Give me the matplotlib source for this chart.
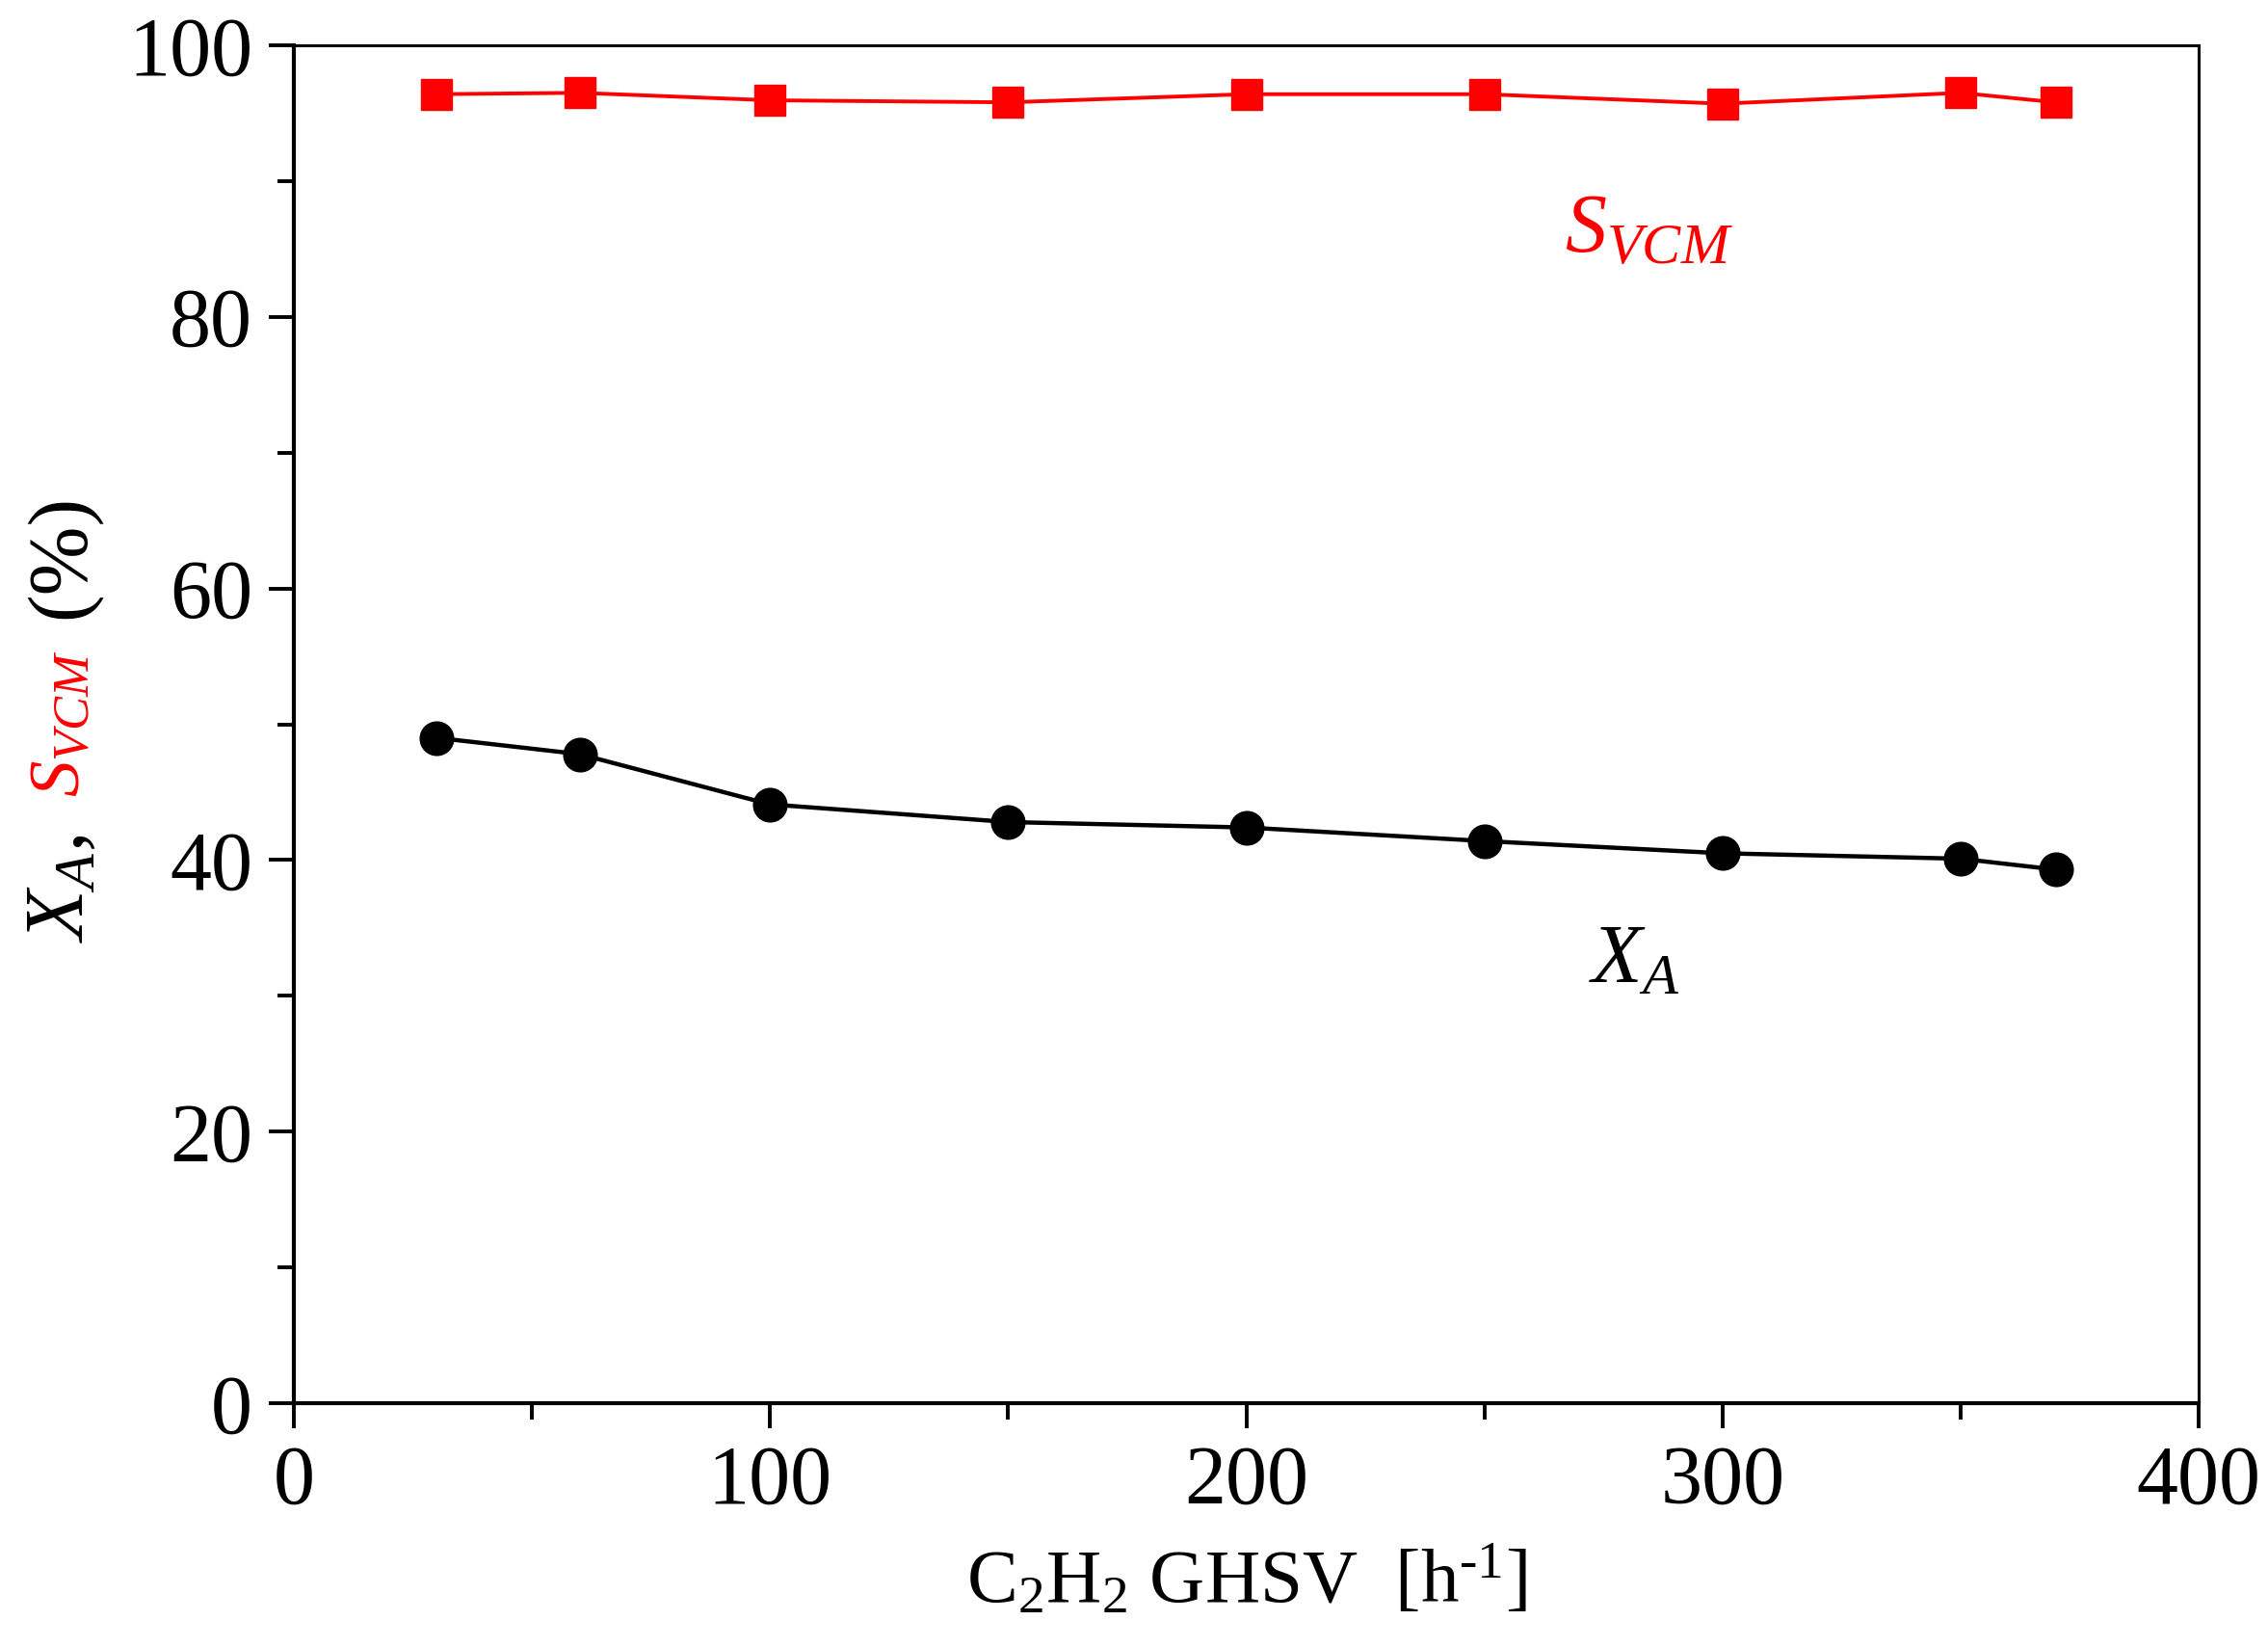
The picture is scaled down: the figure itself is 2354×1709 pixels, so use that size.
import matplotlib
matplotlib.use('Agg')
import matplotlib.pyplot as plt

ghsv = [30, 60, 100, 150, 200, 250, 300, 350, 370]
s_vcm = [96.4, 96.5, 95.95, 95.8, 96.4, 96.4, 95.7, 96.5, 95.8]
x_a = [49.0, 47.8, 44.1, 42.8, 42.4, 41.4, 40.5, 40.1, 39.3]

plt.rcParams['font.family'] = 'serif'
plt.rcParams['font.serif'] = ['Liberation Serif', 'DejaVu Serif']
plt.rcParams['mathtext.fontset'] = 'custom'
plt.rcParams['mathtext.rm'] = 'Liberation Serif'
plt.rcParams['mathtext.it'] = 'Liberation Serif:italic'
plt.rcParams['font.size'] = 62

fig = plt.figure(figsize=(23.54, 17.09), dpi=100)
ax = fig.add_axes([0.1296, 0.148, 0.8398, 0.8245])

ax.plot(ghsv, s_vcm, color='red', marker='s', ms=23, lw=2.8)
ax.plot(ghsv, x_a, color='black', marker='o', ms=25, lw=3.2)

ax.set_xlim(0, 400)
ax.set_ylim(0, 100)
ax.set_xticks([0, 100, 200, 300, 400])
ax.set_xticks([50, 150, 250, 350], minor=True)
ax.set_yticks([0, 20, 40, 60, 80, 100])
ax.set_yticks([10, 30, 50, 70, 90], minor=True)
ax.tick_params(which='major', direction='out', length=19, width=2.8, labelsize=62, pad=12)
ax.tick_params(which='minor', direction='out', length=12, width=2.8)
for side in ['bottom', 'left']:
    ax.spines[side].set_linewidth(3.0)
for side in ['top', 'right']:
    ax.spines[side].set_linewidth(2.2)

ax.set_xlabel(r'$\mathrm{C_2H_2}$ GHSV  [h$^{\text{-1}}$]', fontsize=57, labelpad=18)

fig.text(0.0276, 0.4605, r'$X_A$,', rotation=90, ha='center', va='center', fontsize=62, color='black')
fig.text(0.0276, 0.561, r'$S_{VCM}$', rotation=90, ha='center', va='center', fontsize=54, color='red')
fig.text(0.0276, 0.662, '(%)', rotation=90, ha='center', va='center', fontsize=62, color='black')

ax.text(284.5, 86.3, r'$S_{VCM}$', ha='center', va='center', fontsize=62, color='red')
ax.text(281.4, 32.5, r'$X_A$', ha='center', va='center', fontsize=62, color='black')

fig.savefig('out.png', dpi=100)
